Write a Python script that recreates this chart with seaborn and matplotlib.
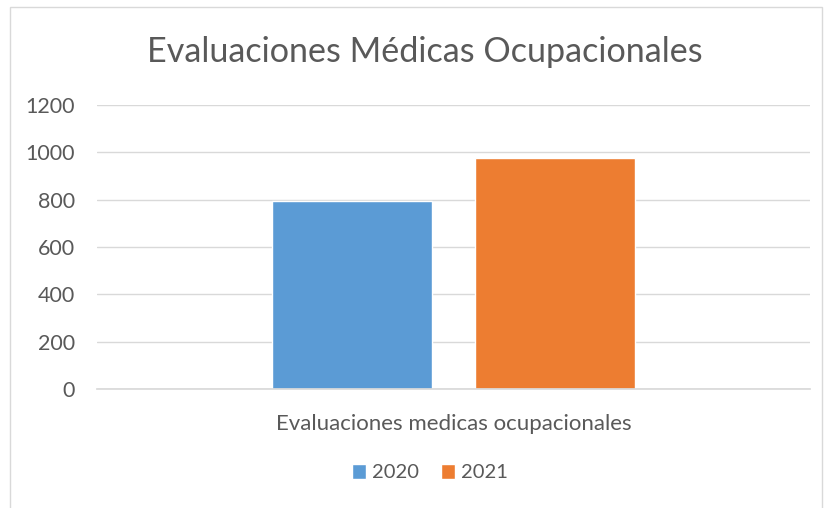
import pandas as pd
import matplotlib.pyplot as plt
import seaborn as sns
from matplotlib.patches import Rectangle

# data
categories = ["Evaluaciones medicas ocupacionales"]
years = ["2020", "2021"]
values = [795, 977]
colors = ["#5B9BD5", "#ED7D31"]

df = pd.DataFrame({
    "categoria": categories * len(years),
    "anio": years,
    "valor": values,
})

sns.set_theme(style="white")
plt.rcParams["font.family"] = ["Lato", "DejaVu Sans"]

fig = plt.figure(figsize=(8.27, 5.08), dpi=100)
ax = fig.add_axes([0.1173, 0.2343, 0.8621, 0.5590])

sns.barplot(data=df, x="categoria", y="valor", hue="anio", palette=colors,
            width=0.5694, gap=0.2118, saturation=1, ax=ax, legend=True)

ax.set_xlim(-0.5, 0.5)
ax.set_ylim(0, 1200)
ax.set_yticks(range(0, 1201, 200))
ax.yaxis.grid(True, color="#d9d9d9", linewidth=1)
ax.set_axisbelow(True)
for s in ["top", "right", "left"]:
    ax.spines[s].set_visible(False)
ax.spines["bottom"].set_color("#d9d9d9")
ax.tick_params(axis="y", colors="#595959", labelsize=15.5, length=0, pad=16)
ax.tick_params(axis="x", colors="#595959", labelsize=16, length=0, pad=18)
ax.set_xlabel("")
ax.set_ylabel("")

fig.suptitle("Evaluaciones Médicas Ocupacionales", x=0.514, y=0.93,
             fontsize=24.6, color="#595959")

handles, labels = ax.get_legend_handles_labels()
ax.legend(handles, labels, loc="center", bbox_to_anchor=(0.467, -0.295),
          ncol=2, frameon=False, fontsize=14.5, labelcolor="#595959",
          handlelength=0.7, handleheight=0.75, handletextpad=0.3,
          columnspacing=1.1)

# outer chart border
fig.patches.append(Rectangle((10 / 827, -0.01), 812 / 827, 1 - 7 / 508 + 0.01,
                             transform=fig.transFigure, fill=False,
                             edgecolor="#d9d9d9", linewidth=1))

fig.savefig("out.png", dpi=100)
